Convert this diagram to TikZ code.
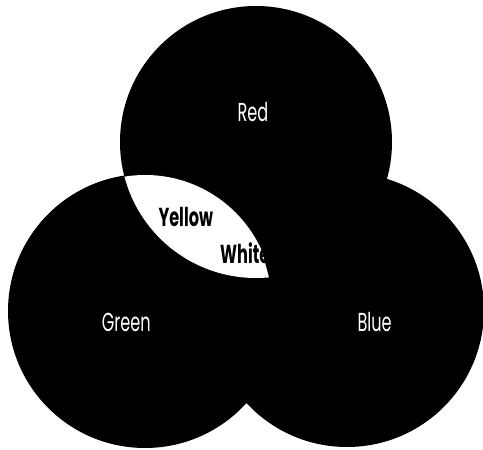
\documentclass[tikz,border=0pt]{standalone}
\usepackage{fontspec}
\setmainfont{Poppins}
\begin{document}
\begin{tikzpicture}[x=1pt,y=-1pt,
  disk/.style={fill=black},
  lbl/.style={anchor=base west, inner sep=0pt, font=\fontsize{26}{30}\selectfont},
  lightlbl/.style={lbl, text=white},
  darklbl/.style={lbl, text=black, font=\fontsize{26}{30}\selectfont\bfseries}
]
\useasboundingbox (0,0) rectangle (483,450);
\fill[white] (0,0) rectangle (483,450);
\coordinate (cr) at (256,142);
\coordinate (cg) at (145,311);
\coordinate (cb) at (347,310);
\fill[disk] (cg) circle[radius=137];
\fill[disk] (cb) circle[radius=137];
\fill[disk] (cr) circle[radius=136];
\begin{scope}
  \clip (cr) circle[radius=136];
  \clip (100,150) -- (235,150) -- (275,300) -- (100,300) -- cycle;
  \fill[white] (145,303) circle[radius=128];
\end{scope}
\node[lightlbl] (red) at (237.3,121.7) {\scalebox{0.62}[1]{Red}};
\node[lightlbl] (green) at (101.7,331.5) {\scalebox{0.62}[1]{Green}};
\node[lightlbl] (blue) at (357.3,331) {\scalebox{0.62}[1]{Blue}};
\node[darklbl] (yellow) at (158.3,226) {\scalebox{0.62}[1]{Yellow}};
\node[darklbl] (white) at (220,263.3) {\scalebox{0.62}[1]{White}};
\end{tikzpicture}
\end{document}
